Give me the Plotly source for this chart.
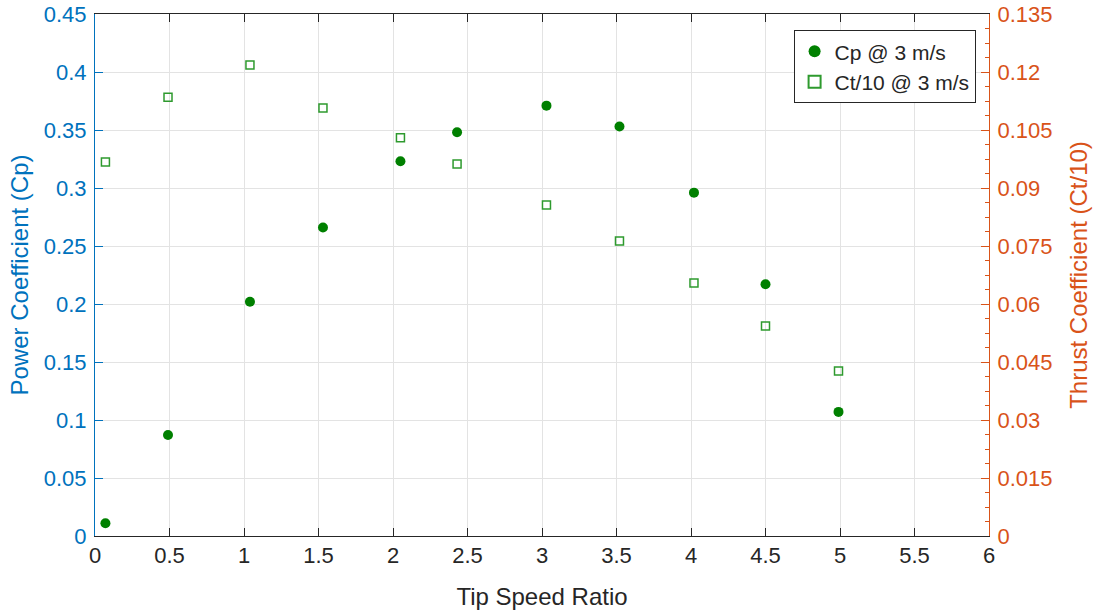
import plotly.graph_objects as go

tsr = [0.07, 0.49, 1.04, 1.53, 2.05, 2.43, 3.03, 3.52, 4.02, 4.50, 4.99]
cp = [0.011, 0.087, 0.202, 0.266, 0.323, 0.348, 0.371, 0.353, 0.296, 0.217, 0.107]
ct10 = [0.0967, 0.1135, 0.1218, 0.1107, 0.1030, 0.0962, 0.0856, 0.0763, 0.0654, 0.0543, 0.0427]

left_ticks = [0, 0.05, 0.1, 0.15, 0.2, 0.25, 0.3, 0.35, 0.4, 0.45]
left_labels = ["0", "0.05", "0.1", "0.15", "0.2", "0.25", "0.3", "0.35", "0.4", "0.45"]
right_ticks = [0, 0.015, 0.03, 0.045, 0.06, 0.075, 0.09, 0.105, 0.12, 0.135]
right_labels = ["0", "0.015", "0.03", "0.045", "0.06", "0.075", "0.09", "0.105", "0.12", "0.135"]
x_ticks = [0, 0.5, 1, 1.5, 2, 2.5, 3, 3.5, 4, 4.5, 5, 5.5, 6]
x_labels = ["0", "0.5", "1", "1.5", "2", "2.5", "3", "3.5", "4", "4.5", "5", "5.5", "6"]

BLUE = "#0072BD"
ORANGE = "#D95319"
DARK = "#262626"
FONT = "Liberation Sans, Arial, sans-serif"

fig = go.Figure()
fig.add_trace(go.Scatter(
    x=tsr, y=cp, mode="markers", name="Cp @ 3 m/s",
    marker=dict(symbol="circle", size=10, color="#008000", line=dict(width=0)),
    yaxis="y"))
fig.add_trace(go.Scatter(
    x=tsr, y=ct10, mode="markers", name="Ct/10 @ 3 m/s",
    marker=dict(symbol="square-open", size=8, color="#2e9a2e", line=dict(width=1.5)),
    yaxis="y2"))

fig.update_layout(
    width=1099, height=614,
    margin=dict(l=95, r=110, t=14, b=78),
    paper_bgcolor="white", plot_bgcolor="white",
    font=dict(family=FONT, size=22, color=DARK),
    showlegend=True,
    legend=dict(x=0.985, y=0.969, xanchor="right", yanchor="top",
                bordercolor=DARK, borderwidth=1, bgcolor="white",
                font=dict(size=21, color=DARK), itemsizing="constant",
                tracegroupgap=0),
    xaxis=dict(range=[0, 6], tickvals=x_ticks, ticktext=x_labels,
               showgrid=True, gridcolor="#e3e3e3", gridwidth=1,
               showline=True, linecolor=DARK, linewidth=1, mirror="ticks",
               ticks="inside", ticklen=8, tickcolor=DARK, zeroline=False,
               automargin=False,
               tickfont=dict(size=22, color=DARK),
               title=dict(text="Tip Speed Ratio", font=dict(size=24, color=DARK), standoff=20)),
    yaxis=dict(range=[0, 0.45], tickvals=left_ticks, ticktext=left_labels,
               showgrid=True, gridcolor="#e3e3e3", gridwidth=1,
               showline=True, linecolor=BLUE, linewidth=1,
               ticks="inside", ticklen=8, tickcolor=BLUE, zeroline=False,
               automargin=False, ticklabelstandoff=3,
               tickfont=dict(size=22, color=BLUE),
               title=dict(text="Power Coefficient (Cp)", font=dict(size=24, color=BLUE), standoff=8)),
    yaxis2=dict(range=[0, 0.135], tickvals=right_ticks, ticktext=right_labels,
                overlaying="y", side="right", showgrid=False,
                showline=True, linecolor=ORANGE, linewidth=1,
                ticks="inside", ticklen=8, tickcolor=ORANGE, zeroline=False,
                automargin=False, ticklabelstandoff=3,
                tickfont=dict(size=22, color=ORANGE),
                minor=dict(ticks="inside", ticklen=4, tickcolor=ORANGE,
                           dtick=0.00375, tick0=0, showgrid=False),
                title=dict(text="Thrust Coefficient (Ct/10)", font=dict(size=24, color=ORANGE), standoff=18)),
)

fig.write_html("out.html")
